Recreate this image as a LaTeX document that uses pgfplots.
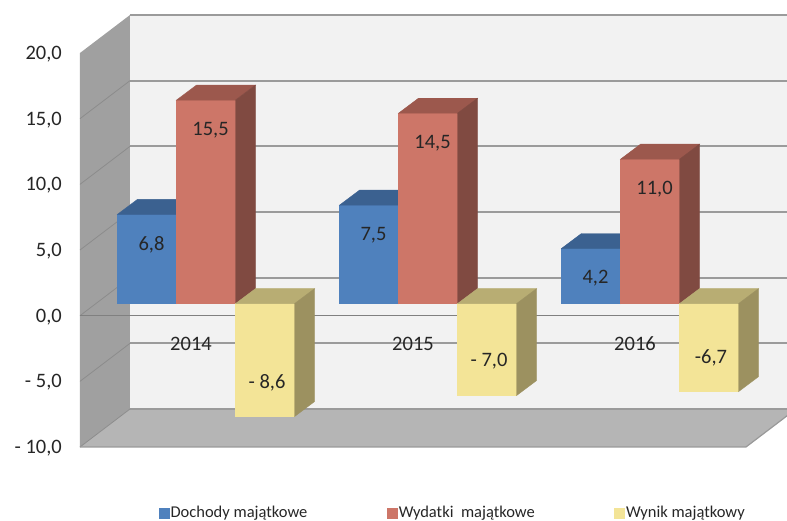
\documentclass[border=0pt]{standalone}
\usepackage{pgfplots}
\pgfplotsset{compat=1.18}
\usepackage{pgfplotstable}
\usepackage{fontspec}
\setmainfont{Carlito}
\definecolor{blueF}{HTML}{4F81BD}
\definecolor{blueT}{HTML}{3B6190}
\definecolor{blueS}{HTML}{2F4E74}
\definecolor{redF}{HTML}{CD7668}
\definecolor{redT}{HTML}{9C584D}
\definecolor{redS}{HTML}{804A41}
\definecolor{yelF}{HTML}{F3E497}
\definecolor{yelT}{HTML}{B8AD73}
\definecolor{yelS}{HTML}{9C9160}
\definecolor{wallB}{HTML}{F2F2F2}
\definecolor{wallL}{HTML}{A0A0A0}
\definecolor{floorC}{HTML}{B5B5B5}
\definecolor{gridC}{HTML}{9B9B9B}
\definecolor{txt}{HTML}{262626}

\pgfdeclareplotmark{nothing}{}

\pgfplotstableread{
x dochody wydatki wynik ld lw lr
0 6.8 15.5 -8.6 {6,8} {15,5} {- 8,6}
1 7.5 14.5 -7.0 {7,5} {14,5} {- 7,0}
2 4.2 11.0 -6.7 {4,2} {11,0} {-6,7}
}\data

\pgfplotsset{
  cuboid/.style n args={4}{
    scatter, only marks, mark=nothing, forget plot, point meta=y,
    scatter/@pre marker code/.code={%
        \fill[#2] (-14.5pt,12pt) -- (-14.5pt,0pt |- zb) -- (44.5pt,0pt |- zb) -- (44.5pt,12pt) -- cycle;
        \ifnum#1=1
          \fill[#3] (-14.5pt,12pt) -- ++(20pt,15pt) -- ++(59pt,0pt) -- ++(-20pt,-15pt) -- cycle;
        \else
          \fill[#3] (-14.5pt,0pt |- zb) -- ++(20pt,15pt) -- ++(59pt,0pt) -- ++(-20pt,-15pt) -- cycle;
        \fi
        \fill[#4] (44.5pt,12pt) -- (44.5pt,0pt |- zb) -- ++(20pt,15pt) -- (64.5pt,27pt) -- cycle;
    },
    scatter/@post marker code/.code={},
  },
  vlab/.style n args={2}{
    draw=none, mark=none, forget plot, nodes near coords,
    point meta=explicit symbolic,
    every node near coord/.style={anchor=center, inner sep=0pt, xshift=#1, yshift=#2,
      font=\fontsize{20.5}{24}\selectfont, text=txt},
  },
}

\begin{document}
\begin{tikzpicture}
\useasboundingbox (-80pt,-74pt) rectangle (707pt,447pt);
\begin{axis}[
  at={(0pt,0pt)}, anchor=south west,
  scale only axis, width=666pt, height=394pt,
  xmin=-0.5, xmax=2.5, ymin=-10, ymax=20,
  clip=false, axis on top,
  axis line style={draw=none},
  tick style={draw=none},
  major tick length=0pt,
  ytick={-10,-5,0,5,10,15,20},
  yticklabels={{- 10,0},{- 5,0},{0,0},{5,0},{10,0},{15,0},{20,0}},
  yticklabel style={anchor=base east, inner sep=0pt, xshift=-18pt, yshift=-6.5pt,
    font=\fontsize{20.5}{24}\selectfont, text=txt},
  xtick={0,1,2},
  xticklabels={2014,2015,2016},
  xticklabel style={anchor=base, inner sep=0pt, yshift=96.5pt,
    font=\fontsize{20.5}{24}\selectfont, text=txt},
  legend columns=3,
  legend style={at={(axis description cs:0.5593,-0.1675)}, anchor=center,
    draw=none, fill=none, font=\fontsize{16.5}{19}\selectfont, text=txt,
    nodes={inner sep=1.5pt},
    /tikz/every even column/.append style={column sep=78pt}},
]
% back wall
\fill[wallB] ([xshift=50pt,yshift=38pt]axis cs:-0.5,-10) rectangle ([xshift=50pt,yshift=38pt]axis cs:2.5,20);
\pgfplotsinvokeforeach{-10,-5,0,5,10,15,20}{
  \draw[gridC, line width=1.8pt] ([xshift=50pt,yshift=38pt]axis cs:-0.5,#1) -- ([xshift=50pt,yshift=38pt]axis cs:2.5,#1);
}
% left wall
\fill[wallL] (axis cs:-0.5,-10) -- (axis cs:-0.5,20) -- ([xshift=50pt,yshift=38pt]axis cs:-0.5,20) -- ([xshift=50pt,yshift=38pt]axis cs:-0.5,-10) -- cycle;
\pgfplotsinvokeforeach{-5,0,5,10,15}{
  \draw[black!45, line width=0.8pt] (axis cs:-0.5,#1) -- ([xshift=50pt,yshift=38pt]axis cs:-0.5,#1);
}
% floor
\fill[floorC] (axis cs:-0.5,-10) -- (axis cs:2.5,-10) -- ([xshift=50pt,yshift=38pt]axis cs:2.5,-10) -- ([xshift=50pt,yshift=38pt]axis cs:-0.5,-10) -- cycle;
\draw[gridC, line width=1.5pt] ([xshift=50pt,yshift=38pt]axis cs:-0.5,-10) -- ([xshift=50pt,yshift=38pt]axis cs:2.5,-10);
\draw[black!45, line width=0.8pt] (axis cs:-0.5,-10) -- ([xshift=50pt,yshift=38pt]axis cs:-0.5,-10);
\draw[black!40, line width=1.2pt] (axis cs:-0.5,-10) -- (axis cs:2.5,-10) -- ([xshift=50pt,yshift=38pt]axis cs:2.5,-10);
% front zero line
\draw[black!50, line width=1.5pt] (axis cs:-0.5,0) -- (axis cs:2.5,0);
% baseline of the bars (bar plane)
\coordinate (zb) at ([yshift=12pt]axis cs:0,0);

% bars
\addplot[cuboid={1}{blueF}{blueT}{blueS}] table[x expr=\thisrow{x}-0.2658, y=dochody]{\data};
\addplot[cuboid={1}{redF}{redT}{redS}] table[x=x, y=wydatki]{\data};
\addplot[cuboid={0}{yelF}{yelT}{yelS}] table[x expr=\thisrow{x}+0.2658, y=wynik]{\data};

% value labels
\addplot[vlab={19.5pt}{-18pt}] table[x expr=\thisrow{x}-0.2658, y=dochody, meta=ld]{\data};
\addplot[vlab={19.5pt}{-18pt}] table[x=x, y=wydatki, meta=lw]{\data};
\addplot[vlab={17pt}{46pt}] table[x expr=\thisrow{x}+0.2658, y=wynik, meta=lr]{\data};

\addlegendimage{legend image code/.code={\fill[blueF] (-3pt,-5pt) rectangle (7pt,5pt);}}
\addlegendentry{Dochody majątkowe}
\addlegendimage{legend image code/.code={\fill[redF] (-3pt,-5pt) rectangle (7pt,5pt);}}
\addlegendentry{Wydatki\ \ majątkowe}
\addlegendimage{legend image code/.code={\fill[yelF] (-3pt,-5pt) rectangle (7pt,5pt);}}
\addlegendentry{Wynik majątkowy}
\end{axis}
\end{tikzpicture}
\end{document}
